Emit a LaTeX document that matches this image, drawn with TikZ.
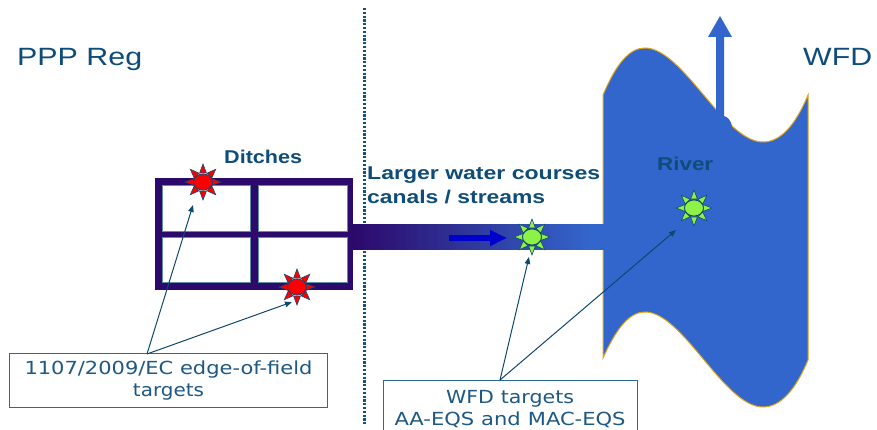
\documentclass[tikz,border=0pt]{standalone}
\usepackage{fontspec}
\setmainfont{Liberation Sans}
\newfontfamily\boxfont{DejaVu Sans}
\usetikzlibrary{arrows.meta}
\definecolor{inkteal}{RGB}{14,76,122}
\definecolor{boxink}{RGB}{30,88,132}
\definecolor{boxline}{RGB}{44,106,150}
\definecolor{ptrcol}{RGB}{14,72,110}
\definecolor{ditchpurple}{RGB}{44,10,108}
\definecolor{cellline}{RGB}{96,140,165}
\definecolor{riverblue}{RGB}{51,102,204}
\definecolor{rimgold}{RGB}{226,166,20}
\definecolor{flowblue}{RGB}{0,0,204}
\definecolor{dotcol}{RGB}{22,80,125}
\definecolor{blotline}{RGB}{20,70,110}
\definecolor{hotred}{RGB}{250,0,0}
\definecolor{cleangreen}{RGB}{140,242,70}
% width-fitted text: keeps natural height, sets the width
\newcommand\sw[2]{\resizebox{#1}{\height}{#2}}
\begin{document}
\begin{tikzpicture}[x=1pt,y=-1pt,
  title/.style={font=\fontsize{25}{30}\selectfont, text=inkteal, inner sep=0pt, anchor=base west},
  tag/.style={font=\bfseries\fontsize{18.5}{24}\selectfont, text=inkteal, inner sep=0pt, anchor=base west},
  tbox/.style={draw=boxline, line width=1pt, fill=white, text=boxink,
    font=\boxfont\fontsize{18}{22}\selectfont, align=center, inner sep=0pt},
  cell/.style={fill=white, draw=cellline, line width=0.8pt},
  ptr/.style={draw=ptrcol, line width=1pt, -{Triangle[length=7pt,width=5.5pt]}},
  pics/blot/.style={code={
    \foreach \a in {0,45,...,315}{
      \filldraw[fill=#1, draw=blotline, line width=0.6pt, rotate=\a]
        (9,-3.4) -- (18,0) -- (9,3.4) -- cycle;
    }
    \filldraw[fill=#1, draw=blotline, line width=0.8pt] (0,0) ellipse [x radius=9.5, y radius=8];
  }}]
\useasboundingbox (0,0) rectangle (877,430);
\clip (0,0) rectangle (877,430);

% headings
\node[title] (ppp) at (17,66) {\sw{125pt}{PPP Reg}};
\node[title] (wfd) at (803,66) {\sw{69pt}{WFD}};

% separator
\draw[dotcol, line width=3pt, dash pattern=on 2.2pt off 1.6pt] (364,8) -- (364,424);

% river body
\filldraw[fill=riverblue, draw=rimgold, line width=1pt]
  (603,95) .. controls (617,62) and (630,48) .. (645,48)
  .. controls (683,48) and (724,142) .. (763,142)
  .. controls (781,142) and (796,124) .. (808,95)
  -- (808,360)
  .. controls (796,389) and (781,407) .. (763,407)
  .. controls (724,407) and (683,312) .. (645,312)
  .. controls (630,312) and (617,327) .. (603,358) -- cycle;

% outflow arrow
\fill[riverblue] (716,124) -- (716,37) -- (708,37) -- (720,16) -- (732,37) -- (724,37) -- (724,116)
  .. controls (728,117) and (731,121) .. (732,126) -- cycle;

% channel from the ditches to the river, purple fading into river blue
\foreach \i in {0,...,59}{
  \pgfmathtruncatemacro\mixp{\i*100/59}
  \fill[riverblue!\mixp!ditchpurple] (353+\i*4,224) rectangle (353+\i*4+4.6,250);
}
\fill[riverblue] (592,224) rectangle (604,250);
\coordinate (flowA) at (449,238);
\coordinate (flowB) at (507,238);
\draw[flowblue, line width=5pt, -{Triangle[length=17pt,width=15pt]}] (flowA) -- (flowB);

% ditch network
\fill[ditchpurple] (155,178) rectangle (353,290);
\draw[cell] (162,185) rectangle (250,231);
\draw[cell] (258,185) rectangle (347,231);
\draw[cell] (162,237) rectangle (250,282);
\draw[cell] (258,237) rectangle (347,282);

% labels
\node[tag] (ditches) at (224,164) {\sw{78pt}{Ditches}};
\node[tag, align=left, anchor=north west] (course) at (367,167)
  {\sw{233pt}{Larger water courses}\\\sw{178pt}{canals / streams}};
\node[tag] (river) at (657,171) {\sw{56pt}{River}};

% sampling points
\coordinate (s1) at (203,182);
\coordinate (s2) at (297,287);
\coordinate (s3) at (532,237);
\coordinate (s4) at (694,208);
\pic at (s1) {blot=hotred};
\pic at (s2) {blot=hotred};
\pic at (s3) {blot=cleangreen};
\pic at (s4) {blot=cleangreen};

% target boxes
\node[tbox, minimum width=318pt, minimum height=54pt] (ppptarget) at (168.5,380.5)
  {\sw{288pt}{1107/2009/EC edge-of-field}\\\sw{71pt}{targets}};
\node[tbox, text width=254pt, inner ysep=9.5pt, anchor=north] (wfdtarget) at (510,380)
  {\sw{128pt}{WFD targets}\\\sw{231pt}{AA-EQS and MAC-EQS}\\[10pt]\strut};

% pointers
\coordinate (pA) at (147,354);
\coordinate (pB) at (500,380);
\coordinate (t1) at (193,205);
\coordinate (t2) at (292,302);
\coordinate (t3) at (529,257);
\coordinate (t4) at (676,230);
\draw[ptr] (pA) -- (t1);
\draw[ptr] (pA) -- (t2);
\draw[ptr] (pB) -- (t3);
\draw[ptr] (pB) -- (t4);
\end{tikzpicture}
\end{document}
